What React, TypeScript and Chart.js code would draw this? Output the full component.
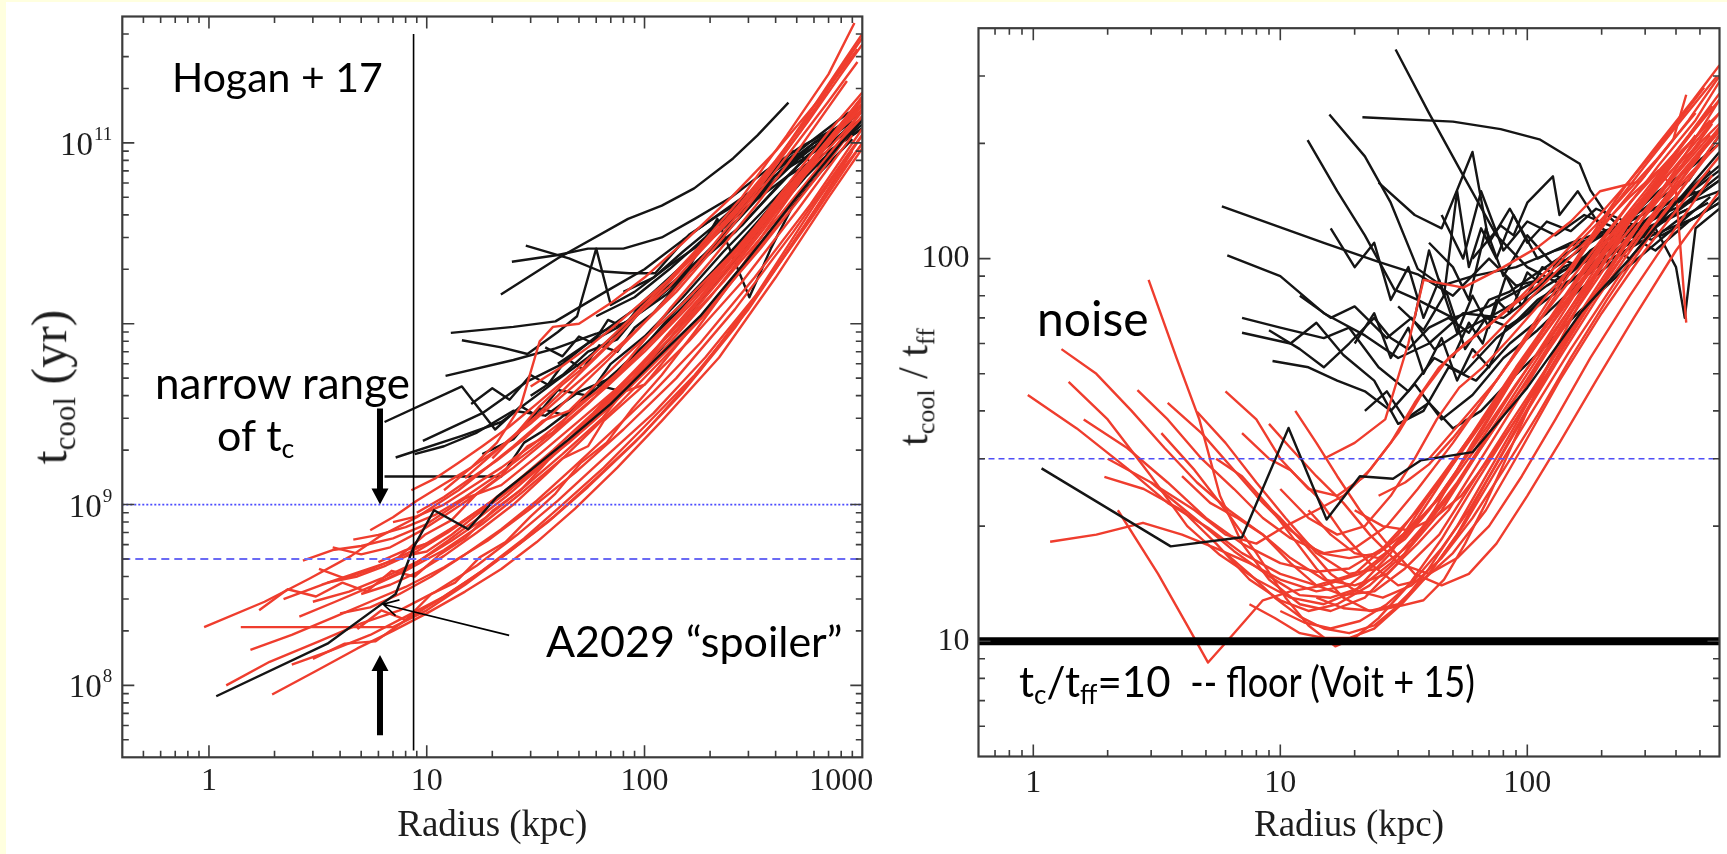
import React, { useEffect, useRef } from 'react';
import { Chart, registerables } from 'chart.js';

Chart.register(...registerables);

type Pt = [number, number];

// ---------------- axis data ----------------
const leftXTicks = [1, 10, 100, 1000];
const leftYTickExponents = [8, 9, 11];
const rightXTicks = [1, 10, 100];
const rightYTicks = [10, 100];
const leftXRange: Pt = [0.4, 1000];
const leftYRange: Pt = [4e7, 5e11];
const rightXRange: Pt = [0.6, 600];
const rightYRange: Pt = [5, 400];

// ---------------- reference marks ----------------
const leftDottedLevel = 1e9;
const leftDashedLevel = 5e8;
const hoganRadius = 8.7;
const hoganSpan: Pt = [4.36e7, 4e11];
const rightDashedLevel = 30;
const floorLevel = 10;
const tcArrowRadius = 6.1;
const tcArrowDown: Pt = [3.4e9, 1e9];
const tcArrowUp: Pt = [5.3e7, 1.47e8];
const spoilerArrowTail: Pt = [23.9, 1.89e8];
const spoilerArrowTip: Pt = [6.3, 2.81e8];

// ---------------- left panel: t_cool (yr) vs radius (kpc) ----------------
const leftA2029: Pt[] = [[1.08,8.7e7],[3.5,1.7e8],[6.3,2.85e8],[7.2,3.2e8],[8.7,5.8e8],[10.8,9.3e8],[15.5,7.3e8],[21,1.1e9],[30,1.55e9],[45,2.3e9],[70,3.6e9],[110,6.2e9],[180,1.1e10],[300,2.3e10],[500,5e10],[800,1e11],[1100,1.5e11]];

const leftRed: Pt[][] = [
  [[0.95,2.1e8],[1.8,2.9e8],[2.9,3.9e8],[4.5,5.2e8],[6,6.6e8],[9,8.5e8],[14,1.2e9],[25,2.1e9],[34,2.9e9],[45,3.3e9],[80,6.5e9],[150,1.3e10],[300,3e10],[600,7.5e10],[1000,1.5e11]],
  [[1.2,1.0e8],[1.9,1.35e8],[3.2,1.75e8],[5,2.2e8],[7.5,2.6e8],[11,3.3e8],[17,4.6e8],[26,6.8e8],[40,1.05e9],[65,1.8e9],[110,3.2e9],[190,6.5e9],[350,1.6e10],[600,4e10],[1000,1e11]],
  [[1.95,8.9e7],[3.1,1.2e8],[4.8,1.6e8],[7,2.0e8],[10,2.5e8],[15,3.3e8],[22,4.4e8],[32,6.2e8],[48,9.5e8],[75,1.6e9],[120,2.9e9],[220,6.5e9],[400,1.8e10],[700,5e10],[1100,1.1e11]],
  [[2.4,1.3e8],[3.6,1.55e8],[5.5,1.9e8],[8,2.4e8],[12,3.1e8],[18,4.3e8],[28,6.5e8],[42,1.0e9],[65,1.6e9],[100,2.7e9],[170,5.2e9],[300,1.2e10],[520,3.2e10],[900,9e10]],
  [[1.4,2.1e8],[2.5,2.1e8],[4,2.1e8],[7,2.1e8],[10,2.6e8],[15,3.6e8],[24,5.5e8],[38,8.5e8],[60,1.4e9],[100,2.5e9],[180,5.5e9],[320,1.4e10],[600,4.5e10],[1000,1.1e11]],
  [[1.55,1.57e8],[2.4,1.9e8],[3.8,2.4e8],[5.5,2.9e8],[8,3.5e8],[12,4.5e8],[19,6.3e8],[30,9.5e8],[48,1.5e9],[80,2.6e9],[140,5e9],[260,1.2e10],[480,3.2e10],[850,8.5e10],[1100,1.3e11]],
  [[3.0,1.4e8],[4.2,1.7e8],[5.8,1.75e8],[8,2.3e8],[11,2.9e8],[16,3.9e8],[24,5.5e8],[36,8e8],[55,1.25e9],[90,2.2e9],[150,4.2e9],[260,9.5e9],[450,2.5e10],[800,7e10],[1100,1.15e11]],
  [[2.6,2.4e8],[3.8,2.9e8],[5.5,3.5e8],[8,4.3e8],[12,5.6e8],[18,7.8e8],[27,1.15e9],[42,1.8e9],[55,2.1e9],[65,2.9e9],[100,4.6e9],[160,8e9],[280,1.7e10],[500,4.2e10],[900,1.1e11]],
  [[2.7,4.9e8],[3.7,5.6e8],[5,5.9e8],[7,6.5e8],[10,7.8e8],[15,1.08e9],[22,1.28e9],[33,1.9e9],[50,2.9e9],[80,4.7e9],[130,8.2e9],[230,1.7e10],[420,4e10],[750,9.5e10],[1100,1.6e11]],
  [[3.0,2.9e8],[4.4,3.3e8],[6.2,3.9e8],[9,4.8e8],[13,6.3e8],[19,8.6e8],[28,1.25e9],[42,1.9e9],[64,3e9],[80,4.2e9],[100,4.6e9],[170,1e10],[300,2.3e10],[550,5.8e10],[1000,1.4e11]],
  [[3.5,3.7e8],[4.8,4.0e8],[6.5,4.6e8],[9,5.5e8],[12.5,7e8],[18,9.5e8],[26,1.35e9],[38,2e9],[58,3.2e9],[90,5.5e9],[150,1.05e10],[270,2.4e10],[480,5.8e10],[850,1.3e11],[1100,1.8e11]],
  [[3.7,5.8e8],[5,5.3e8],[6.8,5.8e8],[9.5,7.2e8],[13,9.2e8],[18,1.2e9],[25,1.6e9],[36,2.3e9],[55,3.6e9],[85,6e9],[140,1.1e10],[250,2.4e10],[450,5.5e10],[800,1.2e11],[1100,1.7e11]],
  [[4.6,6.4e8],[6,6.8e8],[8,7.5e8],[11,8.8e8],[15,1.1e9],[21,1.45e9],[30,2e9],[44,2.9e9],[66,4.4e9],[100,7e9],[160,1.25e10],[280,2.7e10],[500,6.5e10],[900,1.5e11],[1100,2e11]],
  [[2.2,3.0e8],[3.3,3.6e8],[4.8,4.2e8],[7,4.9e8],[10,6.1e8],[14,7.8e8],[20,1.05e9],[30,1.5e9],[45,2.2e9],[70,3.5e9],[110,6e9],[190,1.15e10],[340,2.6e10],[620,6.5e10],[1000,1.4e11]],
  [[4,2.5e8],[5.5,2.7e8],[7.5,3.2e8],[10.5,4e8],[15,5.3e8],[22,7.3e8],[32,1.05e9],[47,1.6e9],[70,2.5e9],[110,4.2e9],[180,7.8e9],[320,1.8e10],[580,4.6e10],[1000,1.2e11]],
  [[5.0,3.2e8],[6.8,3.6e8],[9,4.2e8],[12,5.2e8],[17,7e8],[25,1e9],[36,1.5e9],[52,2.3e9],[78,3.7e9],[120,6.3e9],[200,1.2e10],[350,2.8e10],[620,7e10],[1000,1.5e11]],
  [[6,4.8e8],[8,5.6e8],[10.5,6.2e8],[14,7.8e8],[19,1.0e9],[27,1.35e9],[38,1.9e9],[55,2.8e9],[80,4.3e9],[120,7e9],[200,1.4e10],[350,3.3e10],[620,8.5e10],[1000,1.8e11]],
  [[7,8e8],[9,8.6e8],[12,1.0e9],[16,1.25e9],[22,1.6e9],[30,2.1e9],[42,2.9e9],[60,4.2e9],[90,6.5e9],[140,1.1e10],[230,2.1e10],[400,4.6e10],[700,1.05e11],[1000,1.8e11]],
  [[8,5.2e8],[10,5.5e8],[13,6.8e8],[17,8.8e8],[23,1.15e9],[32,1.6e9],[45,2.3e9],[65,3.5e9],[100,5.8e9],[160,1.1e10],[270,2.3e10],[470,5.4e10],[800,1.2e11],[1100,1.9e11]],
  [[5.5,7.2e8],[7,8.5e8],[9,1.05e9],[12,1.3e9],[16,1.6e9],[22,2.1e9],[30,2.8e9],[42,4e9],[60,5.8e9],[90,9e9],[140,1.5e10],[230,3e10],[400,7e10],[700,1.7e11],[950,2.8e11]],
  [[8.5,1.2e9],[11,1.4e9],[14,1.7e9],[18,2.1e9],[24,2.7e9],[32,3.6e9],[44,5e9],[60,7e9],[85,1.05e10],[120,1.6e10],[180,2.7e10],[280,5e10],[450,1.1e11],[700,2.4e11],[920,4.6e11]],
  [[9,9e8],[12,1.1e9],[16,1.4e9],[21,1.75e9],[28,2.3e9],[37,3.1e9],[50,4.4e9],[68,6.3e9],[95,9.5e9],[135,1.5e10],[200,2.6e10],[320,5.2e10],[520,1.15e11],[800,2.6e11],[1000,3.8e11]],
  [[12,1.2e9],[16,1.6e9],[21,2.2e9],[27,3.5e9],[33,8e9],[38,9.6e9],[50,1.0e10],[70,1.3e10],[100,1.8e10],[150,2.8e10],[250,5e10],[400,9e10],[650,1.8e11],[950,3.3e11]],
  [[15,1.4e9],[19,1.8e9],[24,2.3e9],[31,3e9],[40,4e9],[52,5.5e9],[70,7.8e9],[95,1.15e10],[130,1.7e10],[185,2.7e10],[270,4.5e10],[400,8e10],[620,1.6e11],[900,3.2e11]],
  [[20,1.8e9],[26,2.5e9],[33,3.5e9],[42,4.6e9],[55,6e9],[72,8.2e9],[95,1.15e10],[130,1.6e10],[180,2.5e10],[260,4e10],[380,7e10],[560,1.3e11],[800,2.4e11],[1000,3.5e11]],
  [[30,4.5e9],[40,5.6e9],[55,7.4e9],[75,1.0e10],[100,1.35e10],[140,1.9e10],[200,2.9e10],[290,4.8e10],[420,8.5e10],[600,1.6e11],[850,3e11],[1000,4e11]],
  [[6,3.7e8],[7.5,4.2e8],[9.5,5e8],[12.5,6.3e8],[17,8.3e8],[23,1.1e9],[32,1.55e9],[45,2.3e9],[65,3.6e9],[95,5.8e9],[150,1.05e10],[250,2.2e10],[450,5.4e10],[800,1.25e11],[1100,2e11]],
  [[3.2,4.4e8],[4.2,3.9e8],[5.6,4.4e8],[7.4,5.1e8],[9.8,6.8e8],[13,8.2e8],[17,1.15e9],[22,1.45e9],[29,2.1e9],[38,2.5e9],[50,3.6e9],[68,4.6e9],[92,7.2e9],[130,1.2e10],[200,2.2e10],[320,4.4e10],[520,9.5e10],[850,2.2e11]],
  [[1.7,2.6e8],[2.3,3.4e8],[3.1,3.1e8],[4.1,3.7e8],[5.3,3.3e8],[6.9,4.3e8],[8.8,4.0e8],[11.5,5.3e8],[15,6.5e8],[20,9.2e8],[27,1.2e9],[36,1.75e9],[48,2.4e9],[64,3.6e9],[88,5e9],[125,8.5e9],[180,1.4e10],[270,2.6e10],[420,5.2e10],[700,1.15e11],[1000,1.9e11]],
  [[4.8,2.05e8],[6.2,2.6e8],[8,2.3e8],[10.5,3.2e8],[13.5,3.7e8],[17.5,5.1e8],[23,6.2e8],[30,8.6e8],[39,1.15e9],[51,1.7e9],[67,2.2e9],[88,3.4e9],[120,5.2e9],[170,9e9],[250,1.7e10],[380,3.6e10],[600,7.8e10],[950,1.6e11]],
];

const leftBlack: Pt[][] = [
  [[6.4,1.43e9],[14,1.43e9],[22,1.43e9],[28,2.2e9],[35,2.6e9],[50,3.6e9],[75,5.5e9],[110,8.5e9],[170,1.45e10],[260,2.6e10],[400,4.8e10],[650,9e10],[1000,1.35e11]],
  [[6.4,2.86e9],[14.5,4.5e9],[20.6,2.6e9],[27,3.5e9],[32,3.1e9],[40,4.3e9],[55,4e9],[70,6e9],[100,8.5e9],[150,1.4e10],[230,2.5e10],[350,4.2e10],[550,7.5e10],[850,1.2e11]],
  [[7.2,1.82e9],[14.5,2.4e9],[22,2.86e9],[39,4.8e9],[55,6.5e9],[80,9.5e9],[120,1.5e10],[180,2.3e10],[280,3.5e10],[420,6e10],[650,1e11],[1000,1.5e11]],
  [[9.6,2.25e9],[18,3.2e9],[29,4.8e9],[42,6e9],[60,8.5e9],[90,1.2e10],[130,1.8e10],[200,2.9e10],[330,5e10],[520,8.5e10],[800,1.2e11]],
  [[12.2,5.15e9],[25,6.3e9],[39,7.3e9],[60,8.8e9],[84,1.03e10],[126,1.45e10],[180,2.2e10],[260,3.2e10],[380,5.2e10],[560,8.5e10],[850,1.25e11]],
  [[12.9,8.9e9],[25,9.6e9],[39,1.03e10],[66,1.5e10],[100,2.0e10],[150,2.9e10],[230,4.2e10],[350,6e10],[520,8e10],[800,1.1e11],[1050,1.45e11]],
  [[14.5,8.1e9],[22,7.4e9],[29,6.8e9],[40,9e9],[49,1.1e10],[60,2.6e10],[70,1.27e10],[90,1.5e10],[130,2.1e10],[200,3e10],[300,4.5e10],[450,6.5e10],[700,9e10],[1000,1.2e11]],
  [[21.9,1.45e10],[40,2.3e10],[84,3.8e10],[120,4.5e10],[169,5.6e10],[255,8.2e10],[330,1.1e11],[458,1.67e11]],
  [[24.6,2.2e10],[40,2.4e10],[55,2.6e10],[80,2.6e10],[120,3e10],[170,3.8e10],[250,5e10],[360,7e10],[520,9.5e10],[750,1.2e11],[1000,1.5e11]],
  [[28.5,2.7e10],[45,2.3e10],[62.6,1.95e10],[85,1.9e10],[112,1.9e10],[160,3.1e10],[220,4e10],[300,5e10],[400,7e10],[600,1e11],[900,1.3e11]],
  [[30,4.0e9],[42,5.2e9],[55,7e9],[75,8.2e9],[100,1.25e10],[150,1.8e10],[216,3.8e10],[303,1.4e10],[380,2.6e10],[480,4.5e10],[650,7e10],[900,1.05e11]],
  [[18,1.9e9],[25,2.3e9],[33,3.4e9],[44,3.1e9],[60,4.6e9],[80,4.2e9],[110,6.5e9],[160,1.1e10],[240,2e10],[360,3.6e10],[550,6.5e10],[850,1.1e11]],
  [[8.8,1.9e9],[12,2.1e9],[17,2.5e9],[25,3.3e9],[35,3.1e9],[50,4.2e9],[70,5e9],[100,7.5e9],[140,1.2e10],[210,2e10],[320,3.5e10],[500,6e10],[800,1e11],[1100,1.3e11]],
  [[40,6e9],[55,7.8e9],[75,9.5e9],[100,1.2e10],[140,1.7e10],[200,2.6e10],[280,4e10],[400,6.6e10],[600,1.0e11],[900,1.3e11]],
  [[80,1.5e10],[110,1.8e10],[150,2.5e10],[210,3.5e10],[300,5.2e10],[420,7.5e10],[600,1.05e11],[850,1.45e11],[1100,1.7e11]],
  [[60,1.1e10],[90,1.4e10],[130,2e10],[190,3e10],[270,4.5e10],[380,6.8e10],[480,9e10],[620,7.5e10],[800,1.0e11],[1100,1.4e11]],
  [[16,3.6e9],[20,4.4e9],[24,3.8e9],[30,5.2e9],[36,4.6e9],[44,6.4e9],[52,5.6e9],[62,7.6e9],[75,7e9],[90,9.5e9],[110,1.15e10],[140,1.6e10],[190,2.4e10],[260,3.6e10],[360,5.5e10],[500,8e10],[700,1.1e11]],
  [[35,7.4e9],[42,6.6e9],[50,8.5e9],[58,7.8e9],[68,1.05e10],[80,9.6e9],[95,1.25e10],[115,1.5e10],[140,1.9e10],[175,2.5e10],[220,3.3e10],[300,4.8e10],[420,7e10],[600,1e11],[850,1.3e11]],
];

// ---------------- right panel: t_cool / t_ff vs radius (kpc) ----------------
const rightA2029: Pt[] = [[1.08,28.3],[3.6,17.7],[7.0,18.7],[10.8,36.1],[15.4,20.8],[21,27],[28.6,26.6],[37,29.7],[60,31.2],[100,46],[166,72.8],[260,100],[400,140],[600,190]];

const rightRed: Pt[][] = [
  [[0.95,44],[1.5,36],[2.4,28.3],[3.5,23],[5.1,19.8],[7,17],[10,15],[14,14],[20,15],[30,19],[45,27],[70,40],[110,62],[170,90],[260,130],[400,185],[600,240]],
  [[1.39,47.6],[2,38],[3,27],[4.2,20],[5.7,16.8],[8,14.5],[11,13],[15,12.5],[20,13.5],[28,17],[40,24],[60,35],[90,52],[140,78],[220,115],[350,165],[550,230]],
  [[2.93,88],[3.8,55],[4.7,38],[5.7,24],[7,18],[9,14.5],[12,12.5],[16,12],[22,13],[30,16],[42,22],[60,33],[90,50],[140,75],[220,112],[350,160],[600,225]],
  [[2.64,45.3],[3.5,38],[4.8,30],[6.5,25],[8.5,21],[11,18.6],[15,17],[20,17.5],[27,20],[36,25],[50,33],[75,48],[110,68],[170,98],[260,140],[400,190],[600,260]],
  [[1.17,18.2],[1.8,19],[2.78,20.4],[4,19],[5.5,17.5],[7.5,16],[10,14.5],[14,13.5],[19,14],[26,16.5],[36,21],[50,29],[75,42],[110,60],[170,88],[260,125],[400,175],[600,240]],
  [[1.94,26.9],[2.8,25],[4,22],[5.5,18],[7.5,14.5],[10,12.8],[13,12],[17,12.5],[23,14],[32,17],[45,22],[65,32],[100,48],[150,70],[230,105],[380,155],[600,220]],
  [[4.6,39.8],[6,33],[8,26],[10.5,21],[14,17],[19,15],[25,15.5],[34,18],[46,23],[65,32],[95,46],[140,68],[210,100],[330,145],[500,200]],
  [[2.2,22],[3.2,15],[4.2,11],[5.1,8.8],[6.5,10.5],[8.5,12.8],[11,13.5],[15,14],[21,15],[30,18],[42,23],[60,32],[90,47],[140,70],[220,105],[350,150],[550,210]],
  [[3.3,35],[4.5,28],[6,22],[8,17],[10.5,13],[13,11],[16.7,9.7],[20,10.2],[25,11.5],[33,14],[45,18.5],[62,26],[90,38],[130,56],[200,85],[320,130],[500,185]],
  [[5.5,30],[7,27],[9,22.5],[11,19],[14,15.5],[18,13],[23,12],[30,12.5],[40,15],[55,20],[75,28],[105,40],[150,58],[230,88],[350,130],[550,190]],
  [[7,35],[9,30],[11,28],[14,24],[18,19],[23,16],[30,14],[38,14.5],[50,17],[68,22],[95,32],[135,48],[200,72],[300,105],[460,150],[600,185]],
  [[9,37],[11,32],[14,27],[18,23],[23,19],[30,16],[40,15],[52,16.5],[70,20],[95,27],[130,38],[180,55],[260,80],[380,115],[560,165]],
  [[4,27],[5.2,23],[6.7,21],[8.5,19],[11,16],[14,14],[18,13.2],[24,13.5],[32,15.5],[44,19],[60,26],[85,37],[120,52],[180,78],[280,115],[450,165],[600,200]],
  [[11.5,40],[14,33],[17,27],[21,22],[27,18],[35,15],[45,14],[58,15],[75,18],[100,24],[135,33],[190,48],[270,70],[400,105],[600,150]],
  [[15,30],[20,33],[26.6,38],[33,60],[38,88],[55,84],[80,95],[110,107],[150,125],[197,150],[286,159],[390,205],[440,268]],
  [[20,22],[26,20],[33,19.5],[42,21],[54,24],[70,30],[90,38],[120,50],[160,68],[220,95],[300,130],[420,180],[600,260]],
  [[13,22],[16,19],[20,17],[25,16.5],[32,18.5],[40,22],[52,28],[68,37],[90,50],[120,68],[170,95],[240,130],[340,175],[480,230],[600,290]],
  [[8,24],[10,21],[12.5,18],[16,15],[20,13.6],[26,13],[34,14],[45,16.5],[60,21],[80,28],[110,39],[150,55],[210,78],[300,110],[430,155],[600,210]],
  [[6,17],[7.5,15],[9.5,13],[12,11.6],[15,10.8],[19,10.5],[24,11],[31,12.6],[40,15.5],[52,20],[68,27],[90,37],[120,52],[170,75],[250,110],[380,160],[560,225]],
  [[7.5,12.5],[9.5,11.5],[12,10.5],[15,10.2],[19,10.2],[24,10.8],[31,12.5],[40,15],[52,19],[68,26],[90,36],[125,52],[180,76],[270,112],[420,165],[600,215]],
  [[10,12],[12.5,11.2],[16,10.8],[21,11.3],[27,12.5],[35,14.5],[45,17.5],[58,22],[75,29],[100,40],[135,55],[190,78],[280,112],[420,160],[600,220]],
  [[2,30],[3,26],[4.5,21],[6.5,17.2],[9,14.8],[12,13.2],[16,13],[21,13.8],[28,16],[38,20],[52,26],[72,36],[100,50],[145,72],[210,105],[320,150],[480,210]],
  [[3.5,42],[4.8,35],[6.5,28],[8.5,23],[11,19.5],[14.5,17],[19,16.5],[25,17],[33,19.5],[45,24],[62,32],[85,44],[120,62],[170,88],[250,125],[380,180],[560,250]],
  [[1.6,38],[2.4,32],[3.5,26],[5,21],[7,18],[10,16],[14,15.2],[19,15.5],[26,17.5],[36,22],[50,29],[70,40],[100,56],[140,78],[200,108],[300,150],[450,210],[600,270]],
  [[40,30],[55,38],[75,48],[100,62],[130,80],[170,105],[220,135],[300,175],[420,230],[585,299]],
  [[25,24],[32,26],[40,29],[50,34],[65,42],[85,54],[110,70],[145,92],[190,120],[250,155],[340,200],[470,260],[600,320]],
  [[60,55],[90,72],[130,92],[190,118],[260,145],[340,170],[400,150],[440,68]],
  [[3,26],[4.5,22],[6,19],[8,18],[10.5,20],[14,22],[18,24],[23,28],[30,35],[38,45],[48,55],[62,63],[80,72],[110,85],[150,105],[220,135],[330,180],[480,240]],
  [[6,45],[8,38],[10,30],[13,25],[17,24],[22,27],[28,33],[35,42],[44,52],[56,60],[72,68],[95,80],[130,98],[180,122],[260,160],[380,215],[520,280]],
  [[10,25],[13,21],[17,19],[22,20],[28,24],[35,30],[43,38],[53,46],[66,52],[85,62],[110,75],[150,95],[210,125],[300,165],[450,230],[600,300]],
  [[1.3,58],[1.8,50],[2.5,40],[3.4,32],[4.6,26],[6.2,22],[8.5,19],[11,16.5],[15,14.5],[20,14],[27,15],[36,18],[48,22],[65,30],[90,42],[130,62],[190,92],[280,135],[420,190]],
  [[14,13],[18,12.2],[24,12],[31,12.4],[38,12.8],[46,14.5],[56,18],[68,23],[82,30],[100,40],[125,55],[160,75],[210,100],[290,140],[400,190],[560,250]],
];

const rightBlack: Pt[][] = [
  [[29.3,352],[40,240],[55,165],[75,115],[100,95],[140,85],[200,100],[300,115],[450,140],[600,150]],
  [[21.5,234],[50,228],[78,218],[112,205],[163,177],[180,151],[210,130],[260,115],[330,105],[450,125],[600,140]],
  [[15.8,238],[22,185],[28,140],[36,94],[45,85],[60,90],[90,95],[130,105],[200,115],[300,125],[450,140],[600,160]],
  [[12.9,204],[17,150],[22,115],[29,83],[36,78],[50,70],[70,75],[100,85],[150,95],[220,110],[350,130],[550,170]],
  [[5.8,137],[15,110],[25,98],[36,91],[50,80],[70,100],[90,85],[130,90],[200,108],[300,120],[450,135]],
  [[6.1,102],[10,90],[15,72],[22,63],[30,55],[40,60],[55,72],[80,70],[120,85],[180,100],[270,120],[400,140],[600,175]],
  [[7,70],[10,66],[15,62],[19,66],[25,52],[33,45],[42,55],[55,50],[75,62],[110,75],[160,90],[250,115],[400,145]],
  [[7,64],[11,60],[14,68],[18,56],[24,48],[30,37],[38,40],[48,52],[62,48],[85,60],[120,72],[180,92],[280,118],[450,150]],
  [[9.3,54],[13,52],[17,48],[22,45],[28,40],[35,47],[45,38],[60,44],[80,55],[110,65],[160,82],[250,105],[380,130],[600,165]],
  [[25,158],[35,130],[45,120],[60,190],[70,110],[85,135],[110,100],[150,110],[220,120],[330,135],[500,150]],
  [[40,110],[50,95],[58,78],[68,120],[80,90],[100,115],[130,95],[180,110],[250,125],[350,115],[500,130],[600,145]],
  [[12,80],[16,70],[20,75],[27,62],[34,70],[42,58],[55,65],[75,72],[100,80],[140,95],[200,105],[300,118],[450,135]],
  [[30,75],[38,65],[47,82],[56,58],[68,70],[85,66],[110,78],[150,88],[220,100],[320,115],[480,128],[600,140]],
  [[22,40],[27,45],[32,38],[40,42],[50,36],[65,40],[85,48],[115,58],[160,72],[240,92],[380,118],[550,145]],
  [[45,130],[55,100],[65,150],[80,105],[100,125],[130,115],[170,130],[230,120],[320,140],[450,160],[600,210]],
  [[150,95],[200,110],[260,100],[330,120],[400,95],[434,70],[480,120],[600,135]],
  [[60,100],[78,122],[88,115],[100,140],[127,164],[135,130],[160,150],[200,120],[260,110],[350,125],[480,145],[600,160]],
  [[16,120],[20,95],[24,110],[28,78],[33,95],[38,70],[44,88],[52,64],[60,80],[70,66],[82,90],[95,75],[115,95],[140,88],[180,105],[240,118],[340,130],[480,150]],
  [[20,60],[24,72],[28,55],[33,66],[38,50],[45,62],[52,48],[60,58],[70,52],[82,66],[100,72],[130,85],[170,98],[230,112],[320,128],[450,148],[600,170]],
  [[35,70],[40,105],[46,80],[52,150],[58,95],[65,120],[75,100],[88,130],[100,110],[120,125],[150,118],[190,135],[250,125],[340,150],[470,175],[600,200]],
  [[50,55],[58,68],[66,60],[75,78],[85,72],[100,92],[115,85],[135,100],[160,96],[200,110],[250,118],[320,112],[420,128],[540,140]],
  [[9,65],[12,58],[15,52],[19,60],[24,70],[28,62],[33,58],[40,66],[48,70],[58,64],[70,78],[85,82],[105,90],[140,102],[190,115],[260,125],[360,140]],
];

// ---------------- styling ----------------
const RED = '#EF3D2E';
const BLACK = '#151515';
const AXIS = '#3c3c3c';
const TEXT = '#1e1e1e';
const SERIF = '"Liberation Serif", "DejaVu Serif", serif';
const SANS = 'Lato, "Open Sans", sans-serif';

function seriesSets(lines: Pt[][], color: string, width = 2.4) {
  return lines.map((pts) => ({
    data: pts.map(([x, y]) => ({ x, y })),
    showLine: true,
    borderColor: color,
    backgroundColor: color,
    borderWidth: width,
    pointRadius: 0,
    pointHoverRadius: 0,
    fill: false,
    tension: 0,
    borderJoinStyle: 'round',
  }));
}

function refSet(pts: Pt[], color: string, width: number, dash: number[] = []) {
  return {
    data: pts.map(([x, y]) => ({ x, y })),
    showLine: true,
    borderColor: color,
    backgroundColor: color,
    borderWidth: width,
    borderDash: dash,
    pointRadius: 0,
    pointHoverRadius: 0,
    fill: false,
    tension: 0,
  };
}

function logTickValues(min: number, max: number) {
  const out: { v: number; major: boolean }[] = [];
  for (let e = Math.floor(Math.log10(min)) - 1; e <= Math.ceil(Math.log10(max)); e++) {
    for (let m = 1; m <= 9; m++) {
      const v = m * Math.pow(10, e);
      if (v > min * 1.0005 && v < max * 0.9995) out.push({ v, major: m === 1 });
    }
  }
  return out;
}

const framePlugin = {
  id: 'frameTicks',
  afterDatasetsDraw(chart: any) {
    const { ctx, chartArea, scales } = chart;
    const { left, right, top, bottom } = chartArea;
    const x = scales.x;
    const y = scales.y;
    ctx.save();
    ctx.strokeStyle = AXIS;
    ctx.lineWidth = 1.6;
    ctx.beginPath();
    for (const t of logTickValues(x.min, x.max)) {
      const px = x.getPixelForValue(t.v);
      const L = t.major ? 12 : 6.5;
      ctx.moveTo(px, bottom);
      ctx.lineTo(px, bottom - L);
      ctx.moveTo(px, top);
      ctx.lineTo(px, top + L);
    }
    for (const t of logTickValues(y.min, y.max)) {
      const py = y.getPixelForValue(t.v);
      const L = t.major ? 12 : 6.5;
      ctx.moveTo(left, py);
      ctx.lineTo(left + L, py);
      ctx.moveTo(right, py);
      ctx.lineTo(right - L, py);
    }
    ctx.stroke();
    ctx.lineWidth = 2.2;
    ctx.strokeRect(left, top, right - left, bottom - top);
    ctx.restore();
  },
};

// left panel tick labels: 10^n with a raised exponent, and x labels kept inside the frame
const leftLabelPlugin = {
  id: 'leftLabels',
  afterDraw(chart: any) {
    const { ctx, scales, chartArea } = chart;
    const x = scales.x;
    const y = scales.y;
    const rightEdge = chartArea.left - 10;
    ctx.save();
    ctx.fillStyle = TEXT;
    ctx.textBaseline = 'alphabetic';
    for (const e of leftYTickExponents) {
      const py = y.getPixelForValue(Math.pow(10, e));
      ctx.font = `19px ${SERIF}`;
      const sup = String(e);
      const sw = ctx.measureText(sup).width;
      ctx.textAlign = 'left';
      ctx.fillText(sup, rightEdge - sw, py - 3);
      ctx.font = `33px ${SERIF}`;
      ctx.textAlign = 'right';
      ctx.fillText('10', rightEdge - sw - 1, py + 12);
    }
    ctx.font = `32px ${SERIF}`;
    ctx.textAlign = 'center';
    ctx.textBaseline = 'top';
    for (const v of leftXTicks) {
      const label = String(v);
      const w = ctx.measureText(label).width;
      let px = x.getPixelForValue(v);
      if (px + w / 2 > chartArea.right + 11) px = chartArea.right + 11 - w / 2;
      ctx.fillText(label, px, chartArea.bottom + 8);
    }
    ctx.restore();
  },
};

function blockArrow(ctx: CanvasRenderingContext2D, px: number, y0: number, y1: number) {
  const dir = y1 > y0 ? 1 : -1;
  const headLen = 16;
  const headHalf = 8.5;
  const shaftHalf = 3;
  const yb = y1 - dir * headLen;
  ctx.beginPath();
  ctx.moveTo(px - shaftHalf, y0);
  ctx.lineTo(px + shaftHalf, y0);
  ctx.lineTo(px + shaftHalf, yb);
  ctx.lineTo(px + headHalf, yb);
  ctx.lineTo(px, y1);
  ctx.lineTo(px - headHalf, yb);
  ctx.lineTo(px - shaftHalf, yb);
  ctx.closePath();
  ctx.fill();
}

const leftArrowPlugin = {
  id: 'leftArrows',
  afterDatasetsDraw(chart: any) {
    const { ctx, scales } = chart;
    const x = scales.x;
    const y = scales.y;
    ctx.save();
    ctx.fillStyle = '#000';
    const ax = x.getPixelForValue(tcArrowRadius);
    blockArrow(ctx, ax, y.getPixelForValue(tcArrowDown[0]), y.getPixelForValue(tcArrowDown[1]));
    blockArrow(ctx, ax, y.getPixelForValue(tcArrowUp[0]), y.getPixelForValue(tcArrowUp[1]));
    const tx = x.getPixelForValue(spoilerArrowTail[0]);
    const ty = y.getPixelForValue(spoilerArrowTail[1]);
    const hx = x.getPixelForValue(spoilerArrowTip[0]);
    const hy = y.getPixelForValue(spoilerArrowTip[1]);
    ctx.strokeStyle = '#000';
    ctx.lineWidth = 1.6;
    ctx.beginPath();
    ctx.moveTo(tx, ty);
    ctx.lineTo(hx, hy);
    const ang = Math.atan2(ty - hy, tx - hx);
    const L = 17;
    ctx.moveTo(hx + L * Math.cos(ang - 0.5), hy + L * Math.sin(ang - 0.5));
    ctx.lineTo(hx, hy);
    ctx.lineTo(hx + L * Math.cos(ang + 0.5), hy + L * Math.sin(ang + 0.5));
    ctx.stroke();
    ctx.restore();
  },
};

function baseScales(xr: Pt, yr: Pt, xTicks: number[] | null, yTicks: number[] | null, yWidth: number, xHeight: number) {
  return {
    x: {
      type: 'logarithmic',
      position: 'bottom',
      min: xr[0],
      max: xr[1],
      grid: { display: false, drawTicks: false },
      border: { display: false },
      ticks: xTicks
        ? {
            font: { family: SERIF, size: 32 },
            color: TEXT,
            padding: 8,
            maxRotation: 0,
            autoSkip: false,
            callback: (v: any) => String(v),
          }
        : { display: false },
      afterBuildTicks: (s: any) => {
        if (xTicks) s.ticks = xTicks.map((v) => ({ value: v }));
      },
      afterFit: (s: any) => {
        s.height = xHeight;
      },
      title: {
        display: true,
        text: 'Radius (kpc)',
        font: { family: SERIF, size: 37 },
        color: TEXT,
        padding: { top: 0, bottom: 6 },
      },
    },
    y: {
      type: 'logarithmic',
      position: 'left',
      min: yr[0],
      max: yr[1],
      grid: { display: false, drawTicks: false },
      border: { display: false },
      ticks: yTicks
        ? {
            font: { family: SERIF, size: 32 },
            color: TEXT,
            padding: 9,
            autoSkip: false,
            callback: (v: any) => String(v),
          }
        : { display: false },
      afterBuildTicks: (s: any) => {
        if (yTicks) s.ticks = yTicks.map((v) => ({ value: v }));
      },
      afterFit: (s: any) => {
        s.width = yWidth;
      },
    },
  };
}

function leftConfig(): any {
  const datasets = [
    refSet([[leftXRange[0], leftDottedLevel], [leftXRange[1], leftDottedLevel]], '#4B4BFF', 1.8, [2, 2]),
    refSet([[leftXRange[0], leftDashedLevel], [leftXRange[1], leftDashedLevel]], '#6A6AF4', 2, [8, 5]),
    refSet([[hoganRadius, hoganSpan[0]], [hoganRadius, hoganSpan[1]]], '#000', 1.6),
    ...seriesSets([leftA2029], BLACK),
    ...seriesSets(leftRed, RED),
    ...seriesSets(leftBlack, BLACK),
  ];
  return {
    type: 'scatter',
    data: { datasets },
    options: {
      animation: false,
      responsive: false,
      devicePixelRatio: 1,
      events: [],
      layout: { padding: { left: 0, top: 16.5, right: 37.7, bottom: 0 } },
      plugins: { legend: { display: false }, tooltip: { enabled: false }, title: { display: false } },
      scales: baseScales(leftXRange, leftYRange, null, null, 122.3, 96.7),
    },
    plugins: [framePlugin, leftLabelPlugin, leftArrowPlugin],
  };
}

function rightConfig(): any {
  const datasets = [
    refSet([[rightXRange[0], floorLevel], [rightXRange[1], floorLevel]], '#000', 8),
    refSet([[rightXRange[0], rightDashedLevel], [rightXRange[1], rightDashedLevel]], '#4F4FF6', 1.5, [6, 4]),
    ...seriesSets([rightA2029], BLACK),
    ...seriesSets(rightRed, RED),
    ...seriesSets(rightBlack, BLACK),
  ];
  return {
    type: 'scatter',
    data: { datasets },
    options: {
      animation: false,
      responsive: false,
      devicePixelRatio: 1,
      events: [],
      layout: { padding: { left: 0, top: 17.3, right: 7.5, bottom: 0 } },
      plugins: { legend: { display: false }, tooltip: { enabled: false }, title: { display: false } },
      scales: baseScales(rightXRange, rightYRange, rightXTicks, rightYTicks, 108.5, 97.5),
    },
    plugins: [framePlugin],
  };
}

const anno: React.CSSProperties = {
  position: 'absolute',
  fontFamily: SANS,
  lineHeight: 1,
  whiteSpace: 'nowrap',
  color: '#000',
};

const subStyle: React.CSSProperties = { fontSize: '0.62em', verticalAlign: '-0.28em' };

export default function App() {
  const leftRef = useRef<HTMLCanvasElement>(null);
  const rightRef = useRef<HTMLCanvasElement>(null);

  useEffect(() => {
    const c1 = new Chart(leftRef.current as HTMLCanvasElement, leftConfig());
    const c2 = new Chart(rightRef.current as HTMLCanvasElement, rightConfig());
    return () => {
      c1.destroy();
      c2.destroy();
    };
  }, []);

  const yTitle: React.CSSProperties = {
    position: 'absolute',
    top: 387,
    transform: 'translate(-50%, -50%) rotate(-90deg)',
    fontFamily: SERIF,
    lineHeight: 1,
    whiteSpace: 'nowrap',
    color: TEXT,
  };

  return (
    <div style={{ position: 'fixed', left: 0, top: 0, width: 1727, height: 854, background: '#FFFFDF', overflow: 'hidden' }}>
      <div style={{ position: 'absolute', left: 6, top: 2, right: 0, bottom: 0, background: '#ffffff' }} />
      <canvas ref={leftRef} width={900} height={854} style={{ position: 'absolute', left: 0, top: 0 }} />
      <canvas ref={rightRef} width={857} height={854} style={{ position: 'absolute', left: 870, top: 0 }} />

      <div style={{ ...yTitle, left: 52, fontSize: 50 }}>
        t<span style={subStyle}>cool</span> (yr)
      </div>
      <div style={{ ...yTitle, left: 916, fontSize: 42 }}>
        t<span style={subStyle}>cool</span> / t<span style={subStyle}>ff</span>
      </div>

      <div style={{ ...anno, left: 172, top: 56, fontSize: 41 }}>Hogan + 17</div>
      <div style={{ ...anno, left: 155, top: 360, fontSize: 44 }}>narrow range</div>
      <div style={{ ...anno, left: 217, top: 413, fontSize: 43 }}>
        of t<span style={subStyle}>c</span>
      </div>
      <div style={{ ...anno, left: 546, top: 619, fontSize: 43 }}>A2029 “spoiler”</div>
      <div style={{ ...anno, left: 1037, top: 294, fontSize: 48 }}>noise</div>
      <div style={{ ...anno, left: 1019, top: 660, fontSize: 42 }}>
        t<span style={subStyle}>c</span>/t<span style={subStyle}>ff</span>=10{'  '}
        <span style={{ display: 'inline-block', transform: 'scaleX(0.86)', transformOrigin: 'left center' }}>
          {'\u00a0'}-- floor (Voit + 15)
        </span>
      </div>
    </div>
  );
}
